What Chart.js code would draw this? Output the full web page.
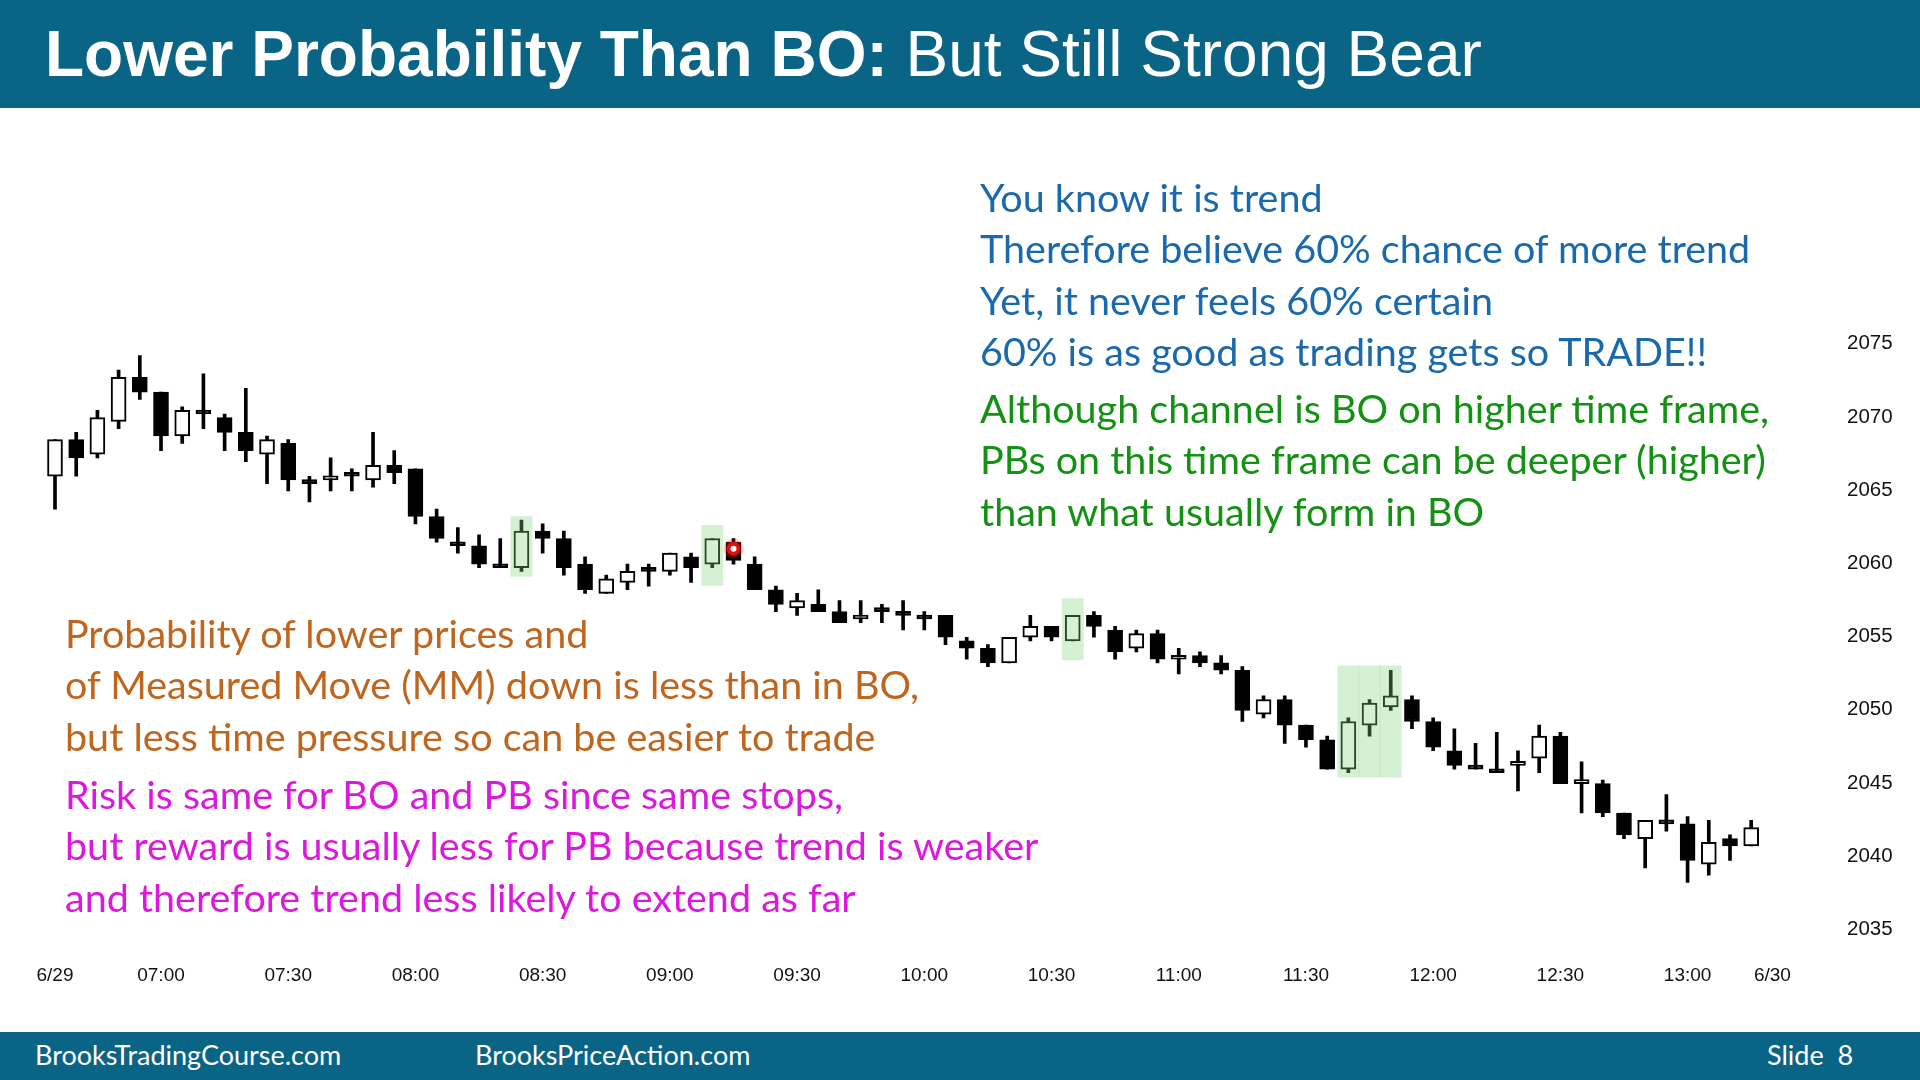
<!DOCTYPE html>
<html>
<head>
<meta charset="utf-8">
<script src="https://cdn.jsdelivr.net/npm/chart.js@4.4.0/dist/chart.umd.min.js"></script>
<style>
body{margin:0;width:1920px;height:1080px;overflow:hidden;background:#fff;position:relative;font-family:Lato,sans-serif}
.band{position:absolute;left:0;width:1920px;background:#0a6486;color:#fff}
#head{top:0;height:108px}
#head .t{position:absolute;left:45px;top:0;font-family:'Liberation Sans',Arial,sans-serif;font-size:64px;line-height:108px;white-space:pre}
#foot{top:1032px;height:48px;font-size:27px;line-height:46px}
#foot span{position:absolute;top:0;white-space:pre}
.note{position:absolute;font-size:39.5px;line-height:51.4px;white-space:pre}
#chart{position:absolute;left:0;top:0}
</style>
</head>
<body>
<canvas id="chart" width="1920" height="1032"></canvas>
<div class="band" id="head"><div class="t"><b>Lower Probability Than BO:</b> But Still Strong Bear</div></div>

<div class="note" style="left:980px;top:171px;color:#1a69ad">You know it is trend
Therefore believe 60% chance of more trend
Yet, it never feels 60% certain
60% is as good as trading gets so TRADE!!</div>
<div class="note" style="left:980px;top:382px;color:#139113">Although channel is BO on higher time frame,
PBs on this time frame can be deeper (higher)
than what usually form in BO</div>
<div class="note" style="left:65px;top:607px;color:#c0651e">Probability of lower prices and
of Measured Move (MM) down is less than in BO,
but less time pressure so can be easier to trade</div>
<div class="note" style="left:65px;top:768px;color:#dc18dc">Risk is same for BO and PB since same stops,
but reward is usually less for PB because trend is weaker
and therefore trend less likely to extend as far</div>

<div class="band" id="foot">
<span style="left:35px">BrooksTradingCourse.com</span>
<span style="left:475px">BrooksPriceAction.com</span>
<span style="left:1767px">Slide  8</span>
</div>

<script>
// 5 minute bars, 6/29, last category is the next day label slot
const times = ['06:35','06:40','06:45','06:50','06:55','07:00','07:05','07:10','07:15','07:20','07:25',
  '07:30','07:35','07:40','07:45','07:50','07:55','08:00','08:05','08:10','08:15','08:20','08:25',
  '08:30','08:35','08:40','08:45','08:50','08:55','09:00','09:05','09:10','09:15','09:20','09:25',
  '09:30','09:35','09:40','09:45','09:50','09:55','10:00','10:05','10:10','10:15','10:20','10:25',
  '10:30','10:35','10:40','10:45','10:50','10:55','11:00','11:05','11:10','11:15','11:20','11:25',
  '11:30','11:35','11:40','11:45','11:50','11:55','12:00','12:05','12:10','12:15','12:20','12:25',
  '12:30','12:35','12:40','12:45','12:50','12:55','13:00','13:05','13:10','13:15','13:20'];

const opens = [2065.75,2068.25,2067.25,2069.5,2072.5,2071.5,2068.5,2070.25,2069.75,2068.75,2067.25,
  2068,2065.5,2065.5,2065.75,2065.5,2066.5,2066.25,2063,2061,2061,2059.75,2059.5,
  2062,2061.5,2059.75,2057.75,2058.5,2059.25,2059.25,2060.25,2059.75,2061.25,2059.75,2058,
  2056.75,2057,2056.5,2056,2056.5,2056.25,2056,2056.25,2054.5,2054,2053,2054.75,
  2055.5,2054.5,2056.25,2055.25,2054,2055,2053.25,2053.5,2053,2052.5,2049.5,2050.5,
  2048.75,2047.75,2045.75,2048.75,2050,2050.5,2049,2047,2046,2045.75,2046,2046.5,
  2048,2044.75,2044.75,2042.75,2041,2042.25,2042,2039.25,2041,2040.5];
const highs = [2068.25,2068.75,2070.25,2073,2074,2071.5,2070.5,2072.75,2070,2071.75,2068.5,
  2068.25,2065.75,2067,2066.25,2068.75,2067.5,2066.25,2063.5,2062.25,2061.75,2061.5,2062.75,
  2062.5,2062,2060.25,2059,2059.75,2059.75,2060.5,2060.5,2061.5,2061.5,2060.25,2058.25,
  2057.75,2058,2057.25,2057.25,2057,2057.25,2056.5,2056.25,2054.75,2054.25,2054.75,2056.25,
  2055.5,2056.25,2056.5,2055.5,2055.25,2055.25,2054,2053.75,2053.5,2052.75,2050.75,2050.75,
  2048.75,2048,2049.25,2050.5,2052.5,2050.75,2049.25,2048.5,2047.5,2048.25,2047,2048.75,
  2048.25,2046.25,2045,2042.75,2042.25,2044,2042.5,2042.25,2041.25,2042.25];
const lows = [2063.5,2065.75,2067,2069,2071,2067.5,2068,2069,2067.5,2066.75,2065.25,
  2064.75,2064,2064.75,2064.75,2065,2065.25,2062.5,2061.25,2060.5,2059.5,2059.5,2059.25,
  2060.5,2059,2057.75,2057.75,2058,2058.25,2059,2058.5,2059.5,2059.75,2058,2056.5,
  2056.25,2056.5,2055.75,2055.75,2055.75,2055.25,2055.25,2054.25,2053.25,2052.75,2053,2054.5,
  2054.5,2054.5,2054.75,2053.25,2053.75,2053,2052.25,2052.75,2052.25,2049,2049.25,2047.5,
  2047.25,2045.75,2045.5,2048,2049.75,2048.5,2047,2045.75,2045.75,2045.5,2044.25,2045.5,
  2044.75,2042.75,2042.5,2041,2039,2041.5,2038,2038.5,2039.5,2040.5];
const closes = [2068.25,2067,2069.75,2072.5,2071.5,2068.5,2070.25,2070,2068.75,2067.5,2068.25,
  2065.5,2065.25,2065.75,2065.75,2066.5,2066,2063,2061.5,2061,2059.75,2059.5,2062,
  2061.5,2059.5,2058,2058.75,2059.25,2059.25,2060.5,2059.5,2061.5,2060,2058,2057,
  2057.25,2056.5,2055.75,2056.25,2056.5,2056.25,2056,2054.75,2054,2053,2054.75,2055.5,
  2054.75,2056.25,2055.5,2053.75,2055,2053.25,2053.5,2053,2052.5,2049.75,2050.5,2048.75,
  2047.75,2045.75,2049,2050.25,2050.75,2049,2047.25,2046,2045.75,2045.5,2046.25,2048,
  2044.75,2045,2042.75,2041.25,2042.25,2042,2039.5,2040.75,2040.5,2041.75];

// green highlighted bars and the price range of each box
const hlIndex = [22, 31, 48, 61, 62, 63];
const hlHigh = [2063, 2062.4, 2057.4, 2052.8, 2052.8, 2052.8];
const hlLow = [2058.9, 2058.3, 2053.2, 2045.2, 2045.2, 2045.2];

// red pointer dot
const dotIndex = 32;
const dotPrice = 2060.8;

const xTickAt = ['06:35','07:00','07:30','08:00','08:30','09:00','09:30','10:00','10:30','11:00','11:30','12:00','12:30','13:00','13:20'];
const xTickText = ['6/29','07:00','07:30','08:00','08:30','09:00','09:30','10:00','10:30','11:00','11:30','12:00','12:30','13:00','6/30'];
const priceTicks = [2035, 2040, 2045, 2050, 2055, 2060, 2065, 2070, 2075];

const bodyFill = (c) => {
  const i = c.dataIndex;
  return closes[i] > opens[i] ? '#ffffff' : '#000000';
};

new Chart(document.getElementById('chart'), {
  type: 'bar',
  data: {
    labels: times,
    datasets: [
      {label: 'wick', order: 4, grouped: false, barThickness: 3, backgroundColor: '#000',
        data: times.map((t, i) => i < opens.length ? [lows[i], highs[i]] : null)},
      {label: 'body', order: 3, grouped: false, barThickness: 15, minBarLength: 4,
        backgroundColor: bodyFill, borderColor: '#000', borderWidth: 2, borderSkipped: false,
        data: times.map((t, i) => i < opens.length ? [opens[i], closes[i]] : null)},
      {label: 'box', order: 2, grouped: false, barPercentage: 1, categoryPercentage: 1,
        backgroundColor: 'rgba(130,210,120,0.33)',
        data: times.map((t, i) => { const k = hlIndex.indexOf(i); return k < 0 ? null : [hlLow[k], hlHigh[k]]; })},
      {type: 'line', label: 'glow', order: 1, showLine: false, pointRadius: 10,
        pointBackgroundColor: 'rgba(255,40,40,0.25)', pointBorderWidth: 0,
        data: times.map((t, i) => i === dotIndex ? dotPrice : null)},
      {type: 'line', label: 'dot', order: 0, showLine: false, pointRadius: 5,
        pointBackgroundColor: '#fff', pointBorderColor: '#e01010', pointBorderWidth: 4,
        data: times.map((t, i) => i === dotIndex ? dotPrice : null)}
    ]
  },
  options: {
    responsive: false,
    animation: false,
    layout: {padding: {left: 44.4, top: 253, right: 0, bottom: 0}},
    plugins: {legend: {display: false}, tooltip: {enabled: false}},
    scales: {
      x: {
        grid: {display: false, drawTicks: false}, border: {display: false},
        ticks: {autoSkip: false, maxRotation: 0, padding: 9, color: '#111',
          font: {family: 'Liberation Sans', size: 19},
          callback: (v, i) => { const k = xTickAt.indexOf(times[i]); return k < 0 ? '' : xTickText[k]; }},
        afterFit: (s) => { s.height = 75; }
      },
      y: {
        position: 'right', min: 2033, max: 2081,
        grid: {display: false, drawTicks: false}, border: {display: false},
        ticks: {padding: 64, labelOffset: 3, color: '#111', font: {family: 'Liberation Sans', size: 20.5},
          callback: (v) => String(v)},
        afterBuildTicks: (s) => { s.ticks = priceTicks.map(v => ({value: v})); },
        afterFit: (s) => { s.width = 137; }
      }
    }
  }
});
</script>
</body>
</html>
